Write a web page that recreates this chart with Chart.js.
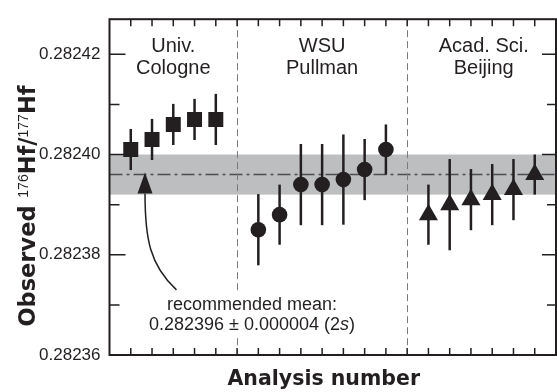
<!DOCTYPE html>
<html>
<head>
<meta charset="utf-8">
<script src="https://cdn.jsdelivr.net/npm/chart.js@4.4.0/dist/chart.umd.min.js"></script>
<style>
  html, body { margin: 0; padding: 0; background: #fff; }
  .wrap { width: 557px; height: 392px; position: relative; }
</style>
</head>
<body>
<div class="wrap"><canvas id="hfChart"></canvas></div>
<script>
// Univ. Cologne (squares)
const cologneX = [1, 2, 3, 4, 5];
const cologneY = [0.282401, 0.282403, 0.282406, 0.282407, 0.282407];
const cologneErr = [0.0000041, 0.0000041, 0.0000041, 0.0000041, 0.0000051];

// WSU Pullman (circles)
const pullmanX = [7, 8, 9, 10, 11, 12, 13];
const pullmanY = [0.282385, 0.282388, 0.282394, 0.282394, 0.282395, 0.282397, 0.282401];
const pullmanErr = [0.0000071, 0.000006, 0.0000081, 0.0000081, 0.000009, 0.0000061, 0.000005];

// Acad. Sci. Beijing (triangles)
const beijingX = [15, 16, 17, 18, 19, 20];
const beijingY = [0.282388, 0.28239, 0.282391, 0.282392, 0.282393, 0.282396];
const beijingErr = [0.000006, 0.0000091, 0.0000061, 0.0000061, 0.0000061, 0.000004];

// recommended mean and its 2s band
const meanValue = 0.282396;
const meanErr = 0.000004;

const labDividers = [6, 14];
const labNames = [['Univ.', 'Cologne'], ['WSU', 'Pullman'], ['Acad. Sci.', 'Beijing']];
const labCenters = [3, 10, 17.6];

const yTickValues = [0.28236, 0.28238, 0.2824, 0.28242];
const yMinorTicks = [0.28237, 0.28239, 0.28241];
const xTickValues = [1, 2, 3, 4, 5, 6, 7, 8, 9, 10, 11, 12, 13, 14, 15, 16, 17, 18, 19, 20];

// arrow from the note up to the mean line (data units)
const arrowTip = { x: 1.67, y: meanValue };
const arrowTail = { x: 3.15, y: 0.282373 };

const ink = '#231f20';

const groups = [
  { x: cologneX, y: cologneY, err: cologneErr },
  { x: pullmanX, y: pullmanY, err: pullmanErr },
  { x: beijingX, y: beijingY, err: beijingErr },
];

const toPoints = (xs, ys) => xs.map((v, i) => ({ x: v, y: ys[i] }));

const decorPlugin = {
  id: 'decor',
  beforeDatasetsDraw(chart) {
    const { ctx, chartArea: { top, bottom, left, right }, scales: { x, y } } = chart;
    ctx.save();

    // 2s band
    const bandTop = y.getPixelForValue(meanValue + meanErr);
    const bandBot = y.getPixelForValue(meanValue - meanErr);
    ctx.fillStyle = '#bcbec0';
    ctx.fillRect(left, bandTop, right - left, bandBot - bandTop);

    // mean line (dash-dot)
    const my = y.getPixelForValue(meanValue);
    ctx.strokeStyle = '#4d4d4f';
    ctx.lineWidth = 1.5;
    ctx.setLineDash([13, 4, 3, 4]);
    ctx.beginPath();
    ctx.moveTo(left, my);
    ctx.lineTo(right, my);
    ctx.stroke();

    // lab dividers
    ctx.strokeStyle = '#7a7a7a';
    ctx.lineWidth = 1;
    ctx.setLineDash([7, 4]);
    labDividers.forEach((d) => {
      const dx = Math.round(x.getPixelForValue(d)) + 0.5;
      ctx.beginPath();
      ctx.moveTo(dx, top);
      ctx.lineTo(dx, bottom);
      ctx.stroke();
    });

    // error bars
    ctx.setLineDash([]);
    ctx.strokeStyle = ink;
    ctx.lineWidth = 2.5;
    groups.forEach((g) => {
      g.x.forEach((xv, i) => {
        const px = x.getPixelForValue(xv);
        ctx.beginPath();
        ctx.moveTo(px, y.getPixelForValue(g.y[i] + g.err[i]));
        ctx.lineTo(px, y.getPixelForValue(g.y[i] - g.err[i]));
        ctx.stroke();
      });
    });
    ctx.restore();
  },
  afterDatasetsDraw(chart) {
    const { ctx, chartArea: { top, bottom, left, right }, scales: { x, y } } = chart;
    ctx.save();
    ctx.fillStyle = ink;
    ctx.textAlign = 'center';
    ctx.textBaseline = 'middle';

    // lab names
    ctx.font = '20px "Liberation Sans", Arial, sans-serif';
    labNames.forEach((lines, i) => {
      const cx = x.getPixelForValue(labCenters[i]);
      lines.forEach((t, j) => ctx.fillText(t, cx, top + 27 + j * 22.5));
    });

    // note text with white background
    const noteX = x.getPixelForValue(6.7);
    const noteY1 = y.getPixelForValue(0.282370);
    const noteY2 = noteY1 + 20.5;
    ctx.font = '18px "Liberation Sans", Arial, sans-serif';
    const line1 = 'recommended mean:';
    const partA = '0.282396 \u00b1 0.000004 (2';
    const partB = 's';
    const partC = ')';
    const w1 = ctx.measureText(line1).width;
    const wA = ctx.measureText(partA).width;
    const wC = ctx.measureText(partC).width;
    ctx.font = 'italic 18px "Liberation Sans", Arial, sans-serif';
    const wB = ctx.measureText(partB).width;
    const w2 = wA + wB + wC;
    ctx.fillStyle = '#fff';
    ctx.fillRect(noteX - w1 / 2 - 2, noteY1 - 11, w1 + 4, 22);
    ctx.fillRect(noteX - w2 / 2 - 2, noteY2 - 11, w2 + 4, 22);
    ctx.fillStyle = ink;
    ctx.font = '18px "Liberation Sans", Arial, sans-serif';
    ctx.fillText(line1, noteX, noteY1);
    ctx.textAlign = 'left';
    let sx = noteX - w2 / 2;
    ctx.fillText(partA, sx, noteY2);
    sx += wA;
    ctx.font = 'italic 18px "Liberation Sans", Arial, sans-serif';
    ctx.fillText(partB, sx, noteY2);
    sx += wB;
    ctx.font = '18px "Liberation Sans", Arial, sans-serif';
    ctx.fillText(partC, sx, noteY2);

    // curved arrow
    const tx = x.getPixelForValue(arrowTip.x);
    const ty = y.getPixelForValue(arrowTip.y);
    const sxp = x.getPixelForValue(arrowTail.x);
    const syp = y.getPixelForValue(arrowTail.y);
    ctx.strokeStyle = ink;
    ctx.lineWidth = 1.5;
    ctx.beginPath();
    ctx.moveTo(sxp, syp);
    ctx.bezierCurveTo(sxp - 27, syp - 25, tx, syp - 52, tx, ty + 19);
    ctx.stroke();
    ctx.beginPath();
    ctx.moveTo(tx, ty - 2);
    ctx.lineTo(tx - 7.5, ty + 19);
    ctx.lineTo(tx + 7.5, ty + 19);
    ctx.closePath();
    ctx.fill();

    // frame
    ctx.lineWidth = 2;
    ctx.strokeRect(left, top, right - left, bottom - top);

    // tick marks pointing inward
    ctx.lineWidth = 1.5;
    ctx.beginPath();
    xTickValues.forEach((v) => {
      const px = x.getPixelForValue(v);
      ctx.moveTo(px, top);
      ctx.lineTo(px, top + 7);
      ctx.moveTo(px, bottom);
      ctx.lineTo(px, bottom - 7);
    });
    yTickValues.forEach((v) => {
      const py = y.getPixelForValue(v);
      ctx.moveTo(left, py);
      ctx.lineTo(left + 16, py);
      ctx.moveTo(right, py);
      ctx.lineTo(right - 14, py);
    });
    yMinorTicks.forEach((v) => {
      const py = y.getPixelForValue(v);
      ctx.moveTo(left, py);
      ctx.lineTo(left + 10, py);
      ctx.moveTo(right, py);
      ctx.lineTo(right - 9, py);
    });
    ctx.stroke();
    ctx.restore();
  },
  afterDraw(chart) {
    const { ctx, chartArea: { left, right } } = chart;
    ctx.save();
    ctx.fillStyle = ink;

    // x axis title
    ctx.font = 'bold 20.5px "DejaVu Sans", sans-serif';
    ctx.textAlign = 'center';
    ctx.textBaseline = 'alphabetic';
    ctx.fillText('Analysis number', (left + right) / 2 - 9, 385);

    // y axis title with superscript mass numbers
    const bold = 'bold 22.5px "DejaVu Sans", sans-serif';
    const sup = '14px "Liberation Sans", Arial, sans-serif';
    const parts = [
      ['Observed ', bold, 0],
      ['176', sup, -7],
      ['Hf/', bold, 0],
      ['177', sup, -7],
      ['Hf', bold, 0],
    ];
    let total = 0;
    parts.forEach((p) => { ctx.font = p[1]; total += ctx.measureText(p[0]).width; });
    ctx.translate(35, 206);
    ctx.rotate(-Math.PI / 2);
    ctx.textAlign = 'left';
    let cx = -total / 2;
    parts.forEach((p) => {
      ctx.font = p[1];
      ctx.fillText(p[0], cx, p[2]);
      cx += ctx.measureText(p[0]).width;
    });
    ctx.restore();
  }
};

new Chart(document.getElementById('hfChart'), {
  type: 'scatter',
  data: {
    datasets: [
      {
        label: 'Univ. Cologne',
        data: toPoints(cologneX, cologneY),
        pointStyle: 'rect',
        pointRadius: 10.6,
        backgroundColor: ink,
        borderColor: ink,
        borderWidth: 0,
      },
      {
        label: 'WSU Pullman',
        data: toPoints(pullmanX, pullmanY),
        pointStyle: 'circle',
        pointRadius: 7.8,
        backgroundColor: ink,
        borderColor: ink,
        borderWidth: 0,
      },
      {
        label: 'Acad. Sci. Beijing',
        data: toPoints(beijingX, beijingY),
        pointStyle: 'triangle',
        pointRadius: 11,
        backgroundColor: ink,
        borderColor: ink,
        borderWidth: 0,
      },
    ],
  },
  options: {
    responsive: true,
    maintainAspectRatio: false,
    animation: false,
    layout: {
      autoPadding: false,
      padding: { left: 0, right: 1, top: 16, bottom: 0 },
    },
    scales: {
      x: {
        type: 'linear',
        min: 0,
        max: 21,
        grid: { display: false, drawTicks: false },
        border: { display: false },
        ticks: { display: false },
        afterFit(scale) { scale.height = 37; },
      },
      y: {
        type: 'linear',
        min: 0.28236,
        max: 0.282427,
        grid: { display: false, drawTicks: false },
        border: { display: false },
        afterBuildTicks(scale) {
          scale.ticks = yTickValues.map((v) => ({ value: v }));
        },
        ticks: {
          padding: 9,
          color: ink,
          font: { family: '"Liberation Sans", Arial, sans-serif', size: 17 },
          callback: (v) => Number(v).toFixed(5),
        },
        afterFit(scale) { scale.width = 109.5; },
      },
    },
    plugins: {
      legend: { display: false },
      tooltip: { enabled: false },
    },
  },
  plugins: [decorPlugin],
});
</script>
</body>
</html>
